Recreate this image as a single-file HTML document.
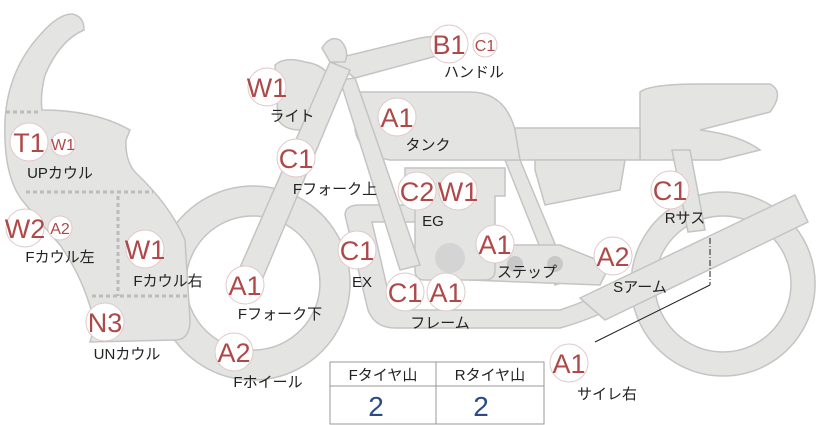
<!DOCTYPE html>
<html><head><meta charset="utf-8"><style>
html,body{margin:0;padding:0;background:#fff;}
svg{display:block;}
.p{fill:#e4e4e2;stroke:#c4c4c4;stroke-width:1.5;}
.b{fill:#fff;stroke:#e0c8c8;stroke-width:1;}
.t{font-family:"Liberation Sans","Noto Sans CJK JP",sans-serif;fill:#b04848;text-anchor:middle;}
.l{font-family:"Liberation Sans","Noto Sans CJK JP",sans-serif;font-size:15px;fill:#222;text-anchor:middle;}
</style></head><body>
<svg width="822" height="425" viewBox="0 0 822 425" xmlns="http://www.w3.org/2000/svg">
<!-- rear wheel -->
<path class="p" fill-rule="evenodd" d="M723,192a92,92 0 1,0 0.1,0Z M723,216a68,68 0 1,1 -0.1,0Z"/>
<!-- front wheel -->
<path class="p" fill-rule="evenodd" d="M253,186a97,97 0 1,0 0.1,0Z M253,216a67,67 0 1,1 -0.1,0Z"/>
<!-- rear seat / tail -->
<path class="p" d="M640,92 Q650,84 700,84 L770,84 Q785,92 770,112 L700,130 Q740,135 760,150 L720,160 L640,160 Z"/>
<!-- rear sus -->
<path class="p" d="M672,150 L690,150 L705,230 L688,232 Z"/>
<!-- seat -->
<path class="p" d="M512,128 L640,128 L640,160 L512,160 Z"/>
<path class="p" d="M535,160 L625,160 L620,190 L545,205 L535,170 Z"/>
<!-- frame rear tubes -->
<path class="p" d="M505,160 L520,160 L570,280 L555,285 Z"/>
<path class="p" d="M470,245 L560,245 L610,265 L600,285 L470,280 Z"/>
<!-- lower frame -->
<path class="p" d="M345,215 Q345,205 360,205 L420,205 L420,222 L372,222 L390,300 Q395,310 410,310 L560,310 Q590,300 620,285 L630,300 Q590,320 560,328 L395,328 Q375,328 368,310 Z"/>
<!-- swingarm -->
<path class="p" d="M580,298 L795,195 L808,222 L605,320 Z"/>
<!-- exhaust -->
<path class="p" d="M500,250 L650,250 L720,270 L725,295 L630,300 L500,300 Z" opacity="0"/>
<!-- engine -->
<path class="p" d="M405,168 L505,168 L505,196 L495,196 L495,270 Q495,280 485,280 L425,280 Q415,280 415,270 L415,196 L405,196 Z"/>
<circle cx="450" cy="258" r="15" fill="#d4d4d4"/>
<circle cx="515" cy="264" r="8" fill="#c8c8c8"/>
<circle cx="555" cy="264" r="8" fill="#c8c8c8"/>
<!-- tank -->
<path class="p" d="M358,92 L470,92 Q505,92 515,130 L520,160 L390,160 Q360,155 355,130 Z"/>
<!-- steering back tube -->
<path class="p" d="M340,80 L355,78 L420,265 L400,270 Z"/>
<!-- handlebar -->
<path class="p" d="M330,60 L420,38 Q455,32 458,45 Q455,55 440,55 L355,78 Z"/>
<!-- headlight -->
<path class="p" d="M322,48 Q330,35 340,40 Q350,50 345,62 L330,62 Z"/>
<path class="p" d="M275,65 Q285,56 305,62 Q330,65 335,90 Q330,105 310,112 L300,130 Q285,130 278,120 Z"/>
<!-- fork -->
<path class="p" d="M330,62 L350,70 L262,280 L238,272 Z"/>
<!-- front cowl -->
<path class="p" d="M72,14 Q84,16 84,30 Q60,40 45,75 Q40,95 42,110 Q95,110 130,130 L126,140 Q125,160 135,172 Q170,205 185,240 L190,320 Q190,340 175,340 L90,342 L95,325 Q85,280 60,245 Q40,222 22,200 Q3,175 5,120 Q8,70 40,35 Q58,14 72,14Z"/>
<g stroke="#bbb" stroke-width="3" stroke-dasharray="4,3" fill="none">
<path d="M6,112 L40,112"/><path d="M26,192 L153,192"/><path d="M118,196 L118,296"/><path d="M92,296 L190,296"/>
</g>
<!-- leader line -->
<path d="M710,238 L710,285" stroke="#222" stroke-width="1" stroke-dasharray="6,2,1,2"/>
<path d="M710,285 L595,342" stroke="#222" stroke-width="1"/>
<!-- badges -->
<g>
<circle class="b" cx="267" cy="87" r="19"/><text class="t" x="267" y="97" font-size="27">W1</text>
<circle class="b" cx="449" cy="44" r="19"/><text class="t" x="449" y="54" font-size="27">B1</text>
<circle class="b" cx="485" cy="45" r="12"/><text class="t" x="485" y="51" font-size="16">C1</text>
<circle class="b" cx="397" cy="117" r="19"/><text class="t" x="397" y="127" font-size="27">A1</text>
<circle class="b" cx="29" cy="142" r="19"/><text class="t" x="29" y="152" font-size="27">T1</text>
<circle class="b" cx="63" cy="144" r="12"/><text class="t" x="63" y="150" font-size="16">W1</text>
<circle class="b" cx="296" cy="158" r="19"/><text class="t" x="296" y="168" font-size="27">C1</text>
<circle class="b" cx="417" cy="191" r="19"/><text class="t" x="417" y="201" font-size="27">C2</text>
<circle class="b" cx="458" cy="191" r="19"/><text class="t" x="458" y="201" font-size="27">W1</text>
<circle class="b" cx="670" cy="190" r="19"/><text class="t" x="670" y="200" font-size="27">C1</text>
<circle class="b" cx="25" cy="228" r="19"/><text class="t" x="25" y="238" font-size="27">W2</text>
<circle class="b" cx="60" cy="228" r="12"/><text class="t" x="60" y="234" font-size="16">A2</text>
<circle class="b" cx="145" cy="249" r="19"/><text class="t" x="145" y="259" font-size="27">W1</text>
<circle class="b" cx="357" cy="250" r="19"/><text class="t" x="357" y="260" font-size="27">C1</text>
<circle class="b" cx="495" cy="244" r="19"/><text class="t" x="495" y="254" font-size="27">A1</text>
<circle class="b" cx="613" cy="256" r="19"/><text class="t" x="613" y="266" font-size="27">A2</text>
<circle class="b" cx="245" cy="285" r="19"/><text class="t" x="245" y="295" font-size="27">A1</text>
<circle class="b" cx="405" cy="292" r="19"/><text class="t" x="405" y="302" font-size="27">C1</text>
<circle class="b" cx="446" cy="292" r="19"/><text class="t" x="446" y="302" font-size="27">A1</text>
<circle class="b" cx="105" cy="322" r="19"/><text class="t" x="105" y="332" font-size="27">N3</text>
<circle class="b" cx="234" cy="352" r="19"/><text class="t" x="234" y="362" font-size="27">A2</text>
<circle class="b" cx="569" cy="363" r="19"/><text class="t" x="569" y="373" font-size="27">A1</text>
</g>
<g>
<text class="l" x="292" y="121">ライト</text>
<text class="l" x="474" y="77">ハンドル</text>
<text class="l" x="428" y="150">タンク</text>
<text class="l" x="60" y="178">UPカウル</text>
<text class="l" x="335" y="194">Fフォーク上</text>
<text class="l" x="433" y="226">EG</text>
<text class="l" x="685" y="223">Rサス</text>
<text class="l" x="60" y="262">Fカウル左</text>
<text class="l" x="168" y="286">Fカウル右</text>
<text class="l" x="362" y="287">EX</text>
<text class="l" x="527" y="277">ステップ</text>
<text class="l" x="640" y="292">Sアーム</text>
<text class="l" x="280" y="319">Fフォーク下</text>
<text class="l" x="440" y="328">フレーム</text>
<text class="l" x="127" y="359">UNカウル</text>
<text class="l" x="268" y="387">Fホイール</text>
<text class="l" x="607" y="399">サイレ右</text>
</g>
<!-- table -->
<rect x="330" y="362" width="214" height="62" fill="#fff" stroke="#999" stroke-width="1"/>
<line x1="330" y1="386" x2="544" y2="386" stroke="#999"/>
<line x1="436" y1="362" x2="436" y2="424" stroke="#999"/>
<text class="l" x="383" y="380">Fタイヤ山</text>
<text class="l" x="490" y="380">Rタイヤ山</text>
<text x="376" y="416" font-family="Liberation Sans,sans-serif" font-size="28" fill="#2a4a8a" text-anchor="middle">2</text>
<text x="481" y="416" font-family="Liberation Sans,sans-serif" font-size="28" fill="#2a4a8a" text-anchor="middle">2</text>
</svg>
</body></html>
